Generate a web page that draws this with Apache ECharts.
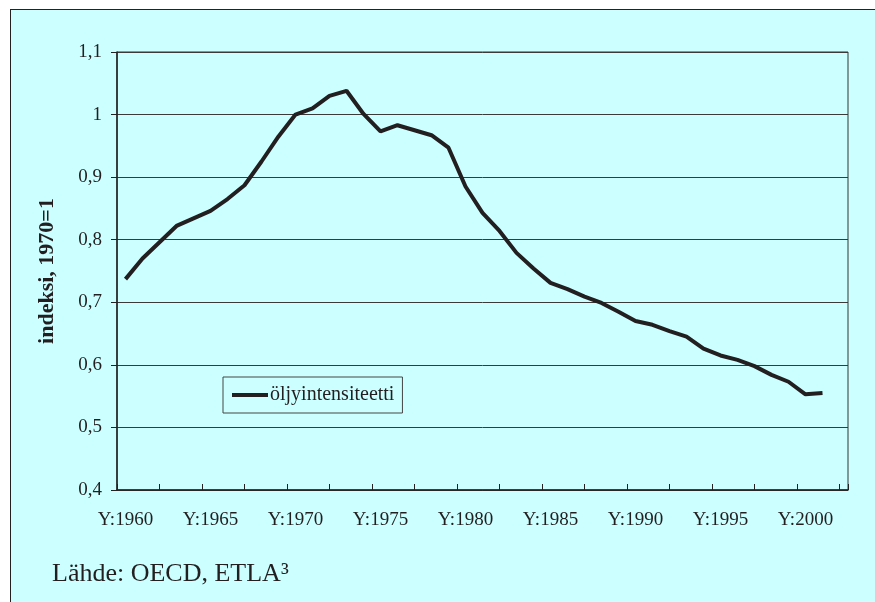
<!DOCTYPE html>
<html>
<head>
<meta charset="utf-8">
<script src="https://cdn.jsdelivr.net/npm/echarts@6/dist/echarts.min.js"></script>
<style>
    html, body { margin: 0; padding: 0; background: #ffffff; }
    #panel {
        position: absolute;
        left: 10px;
        top: 9px;
        width: 865px;
        height: 593px;
        background-color: #ccffff;
        border-left: 1px solid #222;
        border-top: 1px solid #222;
    }
    #chart { position: absolute; left: 0; top: 0; width: 875px; height: 602px; }
</style>
</head>
<body>
<div id="panel"></div>
<div id="chart"></div>
<script>
    // vuodet (viimeinen luokka ilman arvoa)
    var years = [];
    for (var y = 1960; y <= 2002; y++) years.push('Y:' + y);

    var seriesName = 'öljyintensiteetti';
    // indeksi, 1970=1, vuodet 1960-2001
    var oilIntensity = [
        0.737, 0.770, 0.796, 0.822, 0.834, 0.846, 0.865, 0.887, 0.925, 0.965,
        1.000, 1.010, 1.030, 1.038, 1.001, 0.973, 0.983, 0.975, 0.967, 0.947,
        0.885, 0.843, 0.814, 0.779, 0.754, 0.731, 0.721, 0.709, 0.699, 0.685,
        0.670, 0.664, 0.654, 0.645, 0.626, 0.615, 0.608, 0.598, 0.584, 0.573,
        0.553, 0.555
    ];

    var serif = '"Liberation Serif", "DejaVu Serif", serif';
    var ink = '#231f20';

    var mychart = echarts.init(document.getElementById('chart'));
    var option = {
        backgroundColor: 'transparent',
        animation: false,
        textStyle: { fontFamily: serif, color: ink },
        grid: {
            left: 117,
            right: 27,
            top: 52,
            bottom: 112,
            show: true,
            borderColor: '#333',
            borderWidth: 1,
            backgroundColor: 'transparent'
        },
        legend: {
            left: 223,
            top: 377,
            orient: 'horizontal',
            data: [{ name: seriesName, icon: 'rect' }],
            itemWidth: 36,
            itemHeight: 4,
            itemGap: 0,
            borderColor: '#444',
            borderWidth: 1,
            padding: [8, 8, 8, 9],
            textStyle: { fontFamily: serif, fontSize: 20, color: ink, padding: [0, 0, 0, -3] }
        },
        xAxis: [{
            type: 'category',
            data: years,
            boundaryGap: true,
            axisLine: { lineStyle: { color: '#222', width: 1.5 } },
            axisTick: { show: false },
            axisLabel: {
                interval: 4,
                margin: 21,
                fontFamily: serif,
                fontSize: 19,
                color: ink
            },
            splitLine: { show: false }
        }, {
            // pelkät jakoviivat, 2,5 luokan välein
            type: 'value',
            position: 'bottom',
            min: 0,
            max: years.length,
            interval: 2.5,
            axisLine: { show: false },
            axisTick: { show: true, inside: true, length: 6, lineStyle: { color: '#222' } },
            axisLabel: { show: false },
            splitLine: { show: false }
        }],
        yAxis: {
            type: 'value',
            min: 0.4,
            max: 1.1,
            interval: 0.1,
            name: 'indeksi, 1970=1',
            nameLocation: 'middle',
            nameRotate: 90,
            nameGap: 59,
            nameTextStyle: { fontFamily: serif, fontSize: 22, fontWeight: 'bold', color: ink },
            axisLine: { show: true, lineStyle: { color: '#222', width: 1.5 } },
            axisTick: { show: true, inside: false, length: 6, lineStyle: { color: '#222' } },
            axisLabel: {
                margin: 15,
                fontFamily: serif,
                fontSize: 19,
                color: ink,
                formatter: function (v) {
                    return String(Number(v.toFixed(1))).replace('.', ',');
                }
            },
            splitLine: { show: true, lineStyle: { color: '#3a3a3a', width: 1 } }
        },
        series: [{
            name: seriesName,
            type: 'line',
            xAxisIndex: 0,
            showSymbol: false,
            symbol: 'none',
            itemStyle: { color: ink },
            lineStyle: { color: ink, width: 4 },
            data: oilIntensity
        }],
        graphic: [{
            type: 'text',
            left: 52,
            top: 561,
            style: {
                text: 'Lähde: OECD, ETLA³',
                font: '26px ' + serif,
                fill: ink
            }
        }]
    };
    mychart.setOption(option);
</script>
</body>
</html>
